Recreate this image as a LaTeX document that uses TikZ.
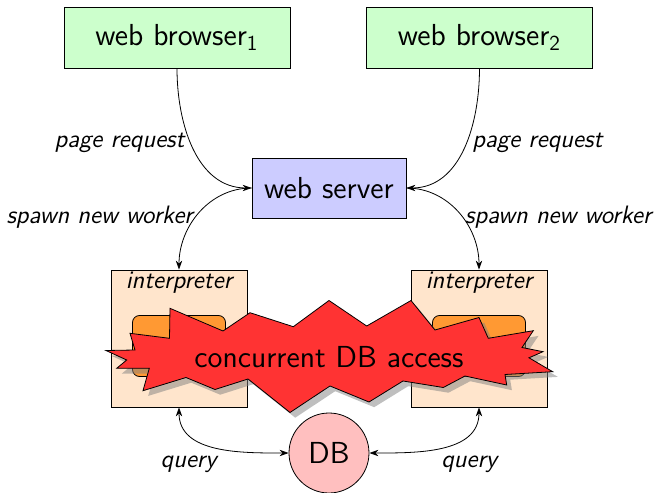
\documentclass[tikz,border=0pt]{standalone}
\usepackage{fontspec}
\usetikzlibrary{shadows,arrows.meta}
\renewcommand{\familydefault}{\sfdefault}
\newcommand{\bigtxt}{\fontsize{15.2}{18}\selectfont}
\newcommand{\midtxt}{\fontsize{12.6}{15}\selectfont\itshape}
\begin{document}
\begin{tikzpicture}[x=0.5pt,y=0.5pt,
  browser/.style={draw, fill=green!20, minimum width=113pt, minimum height=30.5pt, font=\bigtxt, inner sep=0pt},
  server/.style={draw, fill=blue!20, minimum width=77pt, minimum height=30pt, font=\bigtxt, inner sep=0pt},
  interp/.style={draw, fill=orange!20, minimum width=68pt, minimum height=68.5pt, inner sep=0pt},
  inner box/.style={draw, fill=orange!80, rounded corners=3.5pt, minimum width=46.5pt, minimum height=30.5pt, inner sep=0pt},
  ilabel/.style={font=\midtxt, inner sep=0pt},
  lbl/.style={font=\midtxt, inner sep=3pt},
  conn/.style={-{Stealth[length=4.5pt,width=3.2pt]}, line width=0.4pt},
  conn2/.style={{Stealth[length=4.5pt,width=3.2pt]}-{Stealth[length=4.5pt,width=3.2pt]}, line width=0.4pt},
  dbnode/.style={circle, draw, fill=red!25, minimum size=40pt, inner sep=0pt, font=\bigtxt},
  burst/.style={draw, fill=red!80, line join=miter, drop shadow={shadow xshift=2.6pt, shadow yshift=-2.6pt}}
]
\useasboundingbox (0,0) rectangle (655,-493);

\node[browser] (b1) at (177,-37.5) {web browser\textsubscript{1}};
\node[browser] (b2) at (479.5,-37.5) {web browser\textsubscript{2}};
\node[server] (ws) at (329,-188) {web server};

\node[interp] (i1) at (179,-338.5) {};
\node[interp] (i2) at (479,-338.5) {};
\node[ilabel] (i1t) at (179,-283) {interpreter};
\node[ilabel] (i2t) at (479,-283) {interpreter};
\node[inner box] (o1) at (179,-346) {};
\node[inner box] (o2) at (479,-346) {};

\path[burst] (106,-350.5) -- (135,-350) -- (130,-333.3) -- (169.5,-338.3) -- (170,-308.3)
  -- (223,-331) -- (250,-312.7) -- (293.3,-326.7) -- (329,-300.5) -- (366.7,-326)
  -- (411,-300.5) -- (435,-330) -- (479,-317.5) -- (488.3,-338.3) -- (533.3,-330.7)
  -- (522,-347.5) -- (543,-351.7) -- (529,-357.8) -- (552.7,-371.7) -- (505,-374.5)
  -- (506.7,-385) -- (465,-376) -- (443.3,-387.5) -- (403,-381) -- (369,-402)
  -- (330,-386) -- (290,-412.5) -- (248,-379) -- (215,-389.5) -- (186,-377.5)
  -- (143,-390.7) -- (149.3,-368.3) -- (116.7,-368.3) -- (126.7,-360) -- cycle;
\node[font=\bigtxt, inner sep=0pt] (cdb) at (329,-357) {concurrent DB access};

\node[dbnode] (db) at (329,-453) {DB};

\draw[conn] (b1.south) to[out=-90,in=180] node[lbl,left,pos=0.46] {page request} (ws.west);
\draw[conn] (b2.south) to[out=-90,in=0] node[lbl,right,pos=0.46] {page request} (ws.east);
\draw[conn] (ws.west) to[out=180,in=90] node[lbl,left,pos=0.55,inner sep=1.2pt] {spawn new worker} (i1.north);
\draw[conn] (ws.east) to[out=0,in=90] node[lbl,right,pos=0.55,inner sep=1.2pt] {spawn new worker} (i2.north);
\draw[conn2] (i1.south) to[out=-90,in=180] node[lbl,below left,pos=0.55] {query} (db.west);
\draw[conn2] (i2.south) to[out=-90,in=0] node[lbl,below right,pos=0.55] {query} (db.east);
\end{tikzpicture}
\end{document}
